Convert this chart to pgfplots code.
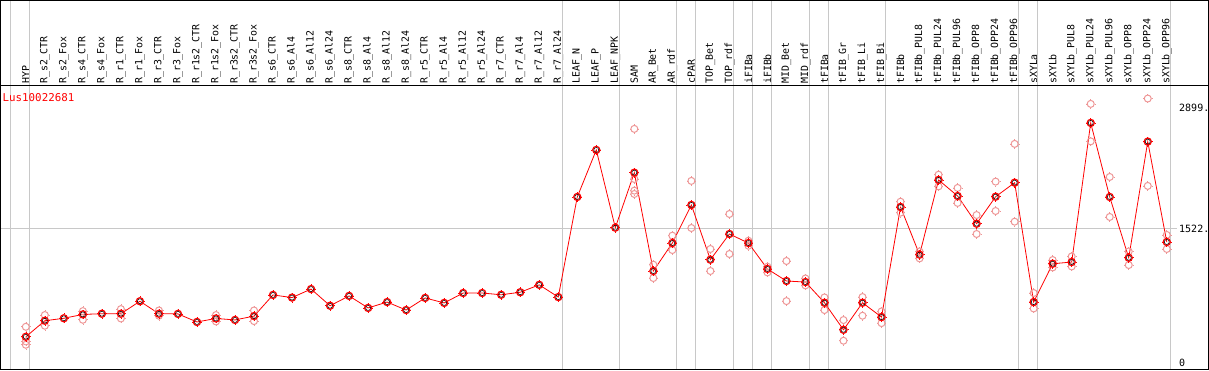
\documentclass[border=0pt]{standalone}
\usepackage{fontspec}
\setmainfont{DejaVu Sans Mono}
\usepackage{pgfplots}
\usepackage{pgfplotstable}
\pgfplotsset{compat=1.18}
\definecolor{rep}{RGB}{238,150,150}
\definecolor{sep}{RGB}{200,200,200}

\pgfdeclareplotmark{meanmark}{%
  \pgfsetlinewidth{1.2pt}\pgfsetstrokecolor{red}%
  \pgfpathcircle{\pgfpointorigin}{3.6pt}%
  \pgfusepathqstroke
  \pgfsetlinewidth{0.6pt}%
  \pgfpathmoveto{\pgfpoint{0pt}{4pt}}\pgfpathlineto{\pgfpoint{0pt}{4.9pt}}%
  \pgfpathmoveto{\pgfpoint{0pt}{-4pt}}\pgfpathlineto{\pgfpoint{0pt}{-4.9pt}}%
  \pgfpathmoveto{\pgfpoint{4pt}{0pt}}\pgfpathlineto{\pgfpoint{4.9pt}{0pt}}%
  \pgfpathmoveto{\pgfpoint{-4pt}{0pt}}\pgfpathlineto{\pgfpoint{-4.9pt}{0pt}}%
  \pgfusepathqstroke
  \pgfsetlinewidth{0.5pt}\pgfsetstrokecolor{black}%
  \pgfpathcircle{\pgfpointorigin}{2.5pt}\pgfusepathqstroke
}
\pgfdeclareplotmark{repmark}{%
  \pgfsetlinewidth{1pt}\pgfsetstrokecolor{rep}%
  \pgfpathcircle{\pgfpointorigin}{3.5pt}%
  \pgfusepathqstroke
  \pgfsetlinewidth{0.6pt}%
  \pgfpathmoveto{\pgfpoint{0pt}{3.9pt}}\pgfpathlineto{\pgfpoint{0pt}{4.7pt}}%
  \pgfpathmoveto{\pgfpoint{0pt}{-3.9pt}}\pgfpathlineto{\pgfpoint{0pt}{-4.7pt}}%
  \pgfpathmoveto{\pgfpoint{3.9pt}{0pt}}\pgfpathlineto{\pgfpoint{4.7pt}{0pt}}%
  \pgfpathmoveto{\pgfpoint{-3.9pt}{0pt}}\pgfpathlineto{\pgfpoint{-4.7pt}{0pt}}%
  \pgfusepathqstroke
}

\pgfplotstableread{
x mean
0 293
1 476
2 504
3 548
4 556
5 556
6 698
7 556
8 554
9 462
10 502
11 485
12 529
13 770
14 740
15 837
16 647
17 759
18 622
19 689
20 598
21 736
22 679
23 792
24 792
25 772
26 801
27 885
28 746
29 1887
30 2423
31 1537
32 2164
33 1043
34 1362
35 1796
36 1172
37 1465
38 1362
39 1066
40 929
41 917
42 681
43 373
44 681
45 518
46 1773
47 1229
48 2081
49 1898
50 1582
51 1890
52 2050
53 689
54 1126
55 1145
56 2731
57 1887
58 1194
59 2518
60 1374
}\means

\pgfplotstableread{
x val
0 407
0 240
0 202
1 541
1 419
3 586
3 487
5 609
5 502
7 593
7 533
10 541
10 468
12 593
12 472
32 2663
32 2092
32 1959
32 1921
33 1115
33 963
34 1446
34 1282
35 2070
35 1533
36 1294
36 1043
37 1693
37 1237
38 1388
38 1331
39 1092
39 1027
40 1157
40 700
41 958
41 879
42 742
42 598
43 484
43 248
44 746
44 533
45 582
45 449
46 1833
46 1708
47 1266
47 1187
48 2141
48 2008
49 1990
49 1819
50 1681
50 1465
51 2062
51 1727
52 2492
52 1605
53 792
53 616
54 1168
54 1084
55 1209
55 1095
56 2948
56 2521
57 2115
57 1659
58 1266
58 1111
59 3009
59 2013
60 1454
60 1294
}\reps

\begin{document}
\begin{tikzpicture}
\begin{axis}[
  scale only axis, width=1207pt, height=284pt,
  xmin=-1.3316, xmax=62.195, ymin=-83.3, ymax=3156.9,
  axis line style={black, line width=1pt},
  clip=false,
  major tick length=0pt, tick style={draw=none},
  xtick={0,...,60},
  xticklabels={HYP, R\_s2\_CTR, R\_s2\_Fox, R\_s4\_CTR, R\_s4\_Fox, R\_r1\_CTR, R\_r1\_Fox, R\_r3\_CTR, R\_r3\_Fox, R\_r1s2\_CTR, R\_r1s2\_Fox, R\_r3s2\_CTR, R\_r3s2\_Fox, R\_s6\_CTR, R\_s6\_Al4, R\_s6\_Al12, R\_s6\_Al24, R\_s8\_CTR, R\_s8\_Al4, R\_s8\_Al12, R\_s8\_Al24, R\_r5\_CTR, R\_r5\_Al4, R\_r5\_Al12, R\_r5\_Al24, R\_r7\_CTR, R\_r7\_Al4, R\_r7\_Al12, R\_r7\_Al24, LEAF\_N, LEAF\_P, LEAF\_NPK, SAM, AR\_Bet, AR\_rdf, cPAR, TOP\_Bet, TOP\_rdf, iFIBa, iFIBb, MID\_Bet, MID\_rdf, tFIBa, tFIB\_Gr, tFIB\_Li, tFIB\_Bi, tFIBb, tFIBb\_PUL8, tFIBb\_PUL24, tFIBb\_PUL96, tFIBb\_OPP8, tFIBb\_OPP24, tFIBb\_OPP96, sXYLa, sXYLb, sXYLb\_PUL8, sXYLb\_PUL24, sXYLb\_PUL96, sXYLb\_OPP8, sXYLb\_OPP24, sXYLb\_OPP96},
  xticklabel pos=upper,
  xticklabel style={rotate=90, anchor=west, inner xsep=1.5pt, inner ysep=0pt, font=\fontsize{9.9}{10}\selectfont},
  ytick={0,1522,2899},
  yticklabels={0,1522.,2899.},
  yticklabel pos=right,
  yticklabel style={anchor=west, inner sep=0pt, xshift=-29.5pt, font=\fontsize{10}{10}\selectfont},
]
\pgfplotsinvokeforeach{-0.79,0.21,28.21,31.21,34.21,35.21,37.21,38.21,39.21,41.21,42.21,45.21,52.21,53.21,60.21}{
  \draw[sep, line width=1pt] ({axis cs:#1,0} |- {rel axis cs:0,0}) -- ({axis cs:#1,0} |- {rel axis cs:0,1.2993});
}
\draw[sep, line width=1pt] (axis cs:-1.3316,1522) -- (axis cs:60.56,1522);
\draw[black, line width=1pt] (rel axis cs:0,0) rectangle (rel axis cs:1,1.2993);
\draw[black, line width=1pt] (rel axis cs:0,1) -- (rel axis cs:1,1);
\coordinate (bl) at (rel axis cs:0,0);
\coordinate (tr) at (rel axis cs:1,1.2993);
\node[anchor=base west, text=red, inner sep=0pt, font=\fontsize{10.8}{12}\selectfont] at (rel axis cs:0.00166,0.9437) {Lus10022681};
\addplot[only marks, mark=repmark] table[x=x, y=val] {\reps};
\addplot[red, line width=0.8pt, mark=meanmark, mark options={solid}] table[x=x, y=mean] {\means};
\end{axis}
\pgfresetboundingbox
\path[use as bounding box] ([shift={(-0.5pt,-0.5pt)}]bl) rectangle ([shift={(0.5pt,0.5pt)}]tr);
\end{tikzpicture}
\end{document}
